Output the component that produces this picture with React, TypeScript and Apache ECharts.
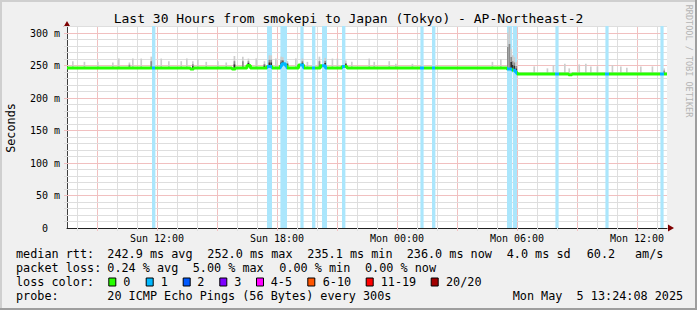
import React, { useEffect, useRef } from 'react';
import * as echarts from 'echarts';

// ---------- data ----------
const TITLE = 'Last 30 Hours from smokepi to Japan (Tokyo) - AP-Northeast-2';
const START_HOUR = 7.5; // Sun 07:30 (hours since Sun 00:00)
const END_HOUR = 37.5; // Mon 13:30
const STEP = 1 / 12; // 300 s
const Y_MAX = 310;

const hourTicks = [8, 9, 10, 11, 12, 13, 14, 15, 16, 17, 18, 19, 20, 21, 22, 23, 24, 25, 26, 27, 28, 29, 30, 31, 32, 33, 34, 35, 36, 37];
const valueTicks = [10, 20, 30, 40, 50, 60, 70, 80, 90, 100, 110, 120, 130, 140, 150, 160, 170, 180, 190, 200, 210, 220, 230, 240, 250, 260, 270, 280, 290, 300, 310];
const labelHours = [12, 18, 24, 30, 36];
const labelValues = [0, 50, 100, 150, 200, 250, 300];

// median RTT (ms), step function: value holds from hour[i] to hour[i+1]
const medianHours = [7.5, 13.67, 13.83, 15.75, 15.92, 16.5, 16.67, 17.5, 17.75, 18.17, 18.25, 18.42, 18.5, 19.08, 19.33, 20.17, 20.42, 21.25, 21.5, 29.5, 29.75, 29.92, 30.0, 32.58, 32.75];
const medianValues = [245.5, 244, 245.5, 244, 245.5, 249.5, 245.5, 248, 245.5, 249, 252, 249, 245.5, 250, 245.5, 249, 245.5, 248, 245.5, 244, 242, 239, 236.5, 235.1, 236.5];

// periods with 1/20 packets lost
const lossStart = [11.75, 17.5, 18.17, 19.17, 19.75, 20.25, 21.25, 25.17, 25.75, 29.5, 29.79, 31.92, 34.42, 37.17];
const lossEnd = [11.92, 17.75, 18.5, 19.33, 19.92, 20.5, 21.42, 25.33, 25.92, 29.75, 30.0, 32.08, 34.58, 37.33];

// smoke (spread of individual pings above the median)
const smokeHours = [7.75, 8.33, 9.0, 9.75, 10.05, 10.58, 10.75, 11.17, 11.67, 12.17, 12.55, 13.17, 13.45, 13.75, 14.0, 14.42, 15.0, 15.42, 15.83, 16.25, 16.53, 16.92, 17.33, 17.58, 17.67, 17.9, 18.17, 18.25, 18.48, 18.9, 19.23, 19.48, 20.08, 20.37, 20.73, 20.98, 21.4, 21.7, 22.57, 22.82, 23.57, 23.9, 24.73, 25.15, 28.73, 29.15, 29.5, 29.58, 29.67, 29.75, 29.83, 29.92, 30.82, 31.48, 31.78, 32.35, 32.57, 33.07, 33.4, 33.65, 33.98, 34.73, 35.15, 35.45, 36.15, 36.73, 37.32];
const smokeTops = [256, 255, 255, 254, 260, 254, 260, 260, 263, 260, 256, 256, 260, 256, 259, 255, 256, 254, 264, 263, 260, 260, 256, 265, 265, 260, 263, 262, 256, 260, 260, 255, 263, 261, 260, 260, 257, 255, 260, 255, 256, 252, 252, 250, 255, 259, 300, 308, 275, 265, 262, 255, 248, 245, 250, 252, 245, 251, 252, 248, 248, 250, 248, 246, 248, 248, 245];
const smokeShade = [0, 0, 0, 0, 0, 1, 0, 0, 1, 0, 0, 0, 0, 2, 0, 0, 0, 0, 2, 1, 2, 0, 2, 2, 2, 0, 2, 2, 2, 0, 2, 0, 1, 2, 0, 0, 2, 0, 0, 0, 0, 0, 0, 0, 0, 0, 1, 1, 2, 2, 2, 2, 0, 0, 0, 0, 0, 0, 0, 0, 0, 0, 0, 0, 0, 0, 1];

// legend texts
const rttLabel = 'median rtt:';
const rttStats = ['242.9 ms avg', '252.0 ms max', '235.1 ms min', '236.0 ms now', '4.0 ms sd', '60.2', 'am/s'];
const lossLabel = 'packet loss:';
const lossStats = ['0.24 % avg', '5.00 % max', '0.00 % min', '0.00 % now'];
const lossColorLabel = 'loss color:';
const lossColorNames = ['0', '1', '2', '3', '4-5', '6-10', '11-19', '20/20'];
const lossColors = ['#26ff00', '#00b8ff', '#0059ff', '#7e00ff', '#ff00ff', '#ff5500', '#ff0000', '#a10000'];
const probeLabel = 'probe:';
const probeText = '20 ICMP Echo Pings (56 Bytes) every 300s';
const dateText = 'Mon May  5 13:24:08 2025';

// ---------- layout / style ----------
const MONO = '"DejaVu Sans Mono", monospace';
const LEG_FS = 11.8;
const AXIS_FS = 10;
const rttX = [107.3, 207.3, 307.3, 406.7, 506.7, 586.7, 635];
const lossX = [107.3, 192.7, 279.3, 365];
const boxX = [108.3, 145.7, 182.7, 219.3, 256, 307.3, 365.7, 430.7];
const boxTextX = [123.3, 160.7, 197.3, 234.3, 270.7, 322.7, 380.7, 446];
const rowY = [254.3, 268.3, 282.3, 296];
const GRID_GRAY = '#dedede';
const GRID_RED = '#f1c0c0';
const LOSS_BG = '#abe6fc';

function medianAt(h: number): number {
  let v = medianValues[0];
  for (let i = 0; i < medianHours.length; i++) {
    if (medianHours[i] <= h) v = medianValues[i];
  }
  return v;
}

function timeLabel(v: number): string {
  const day = v < 24 ? 'Sun' : 'Mon';
  const hh = Math.round(v % 24);
  return `${day} ${String(hh).padStart(2, '0')}:00`;
}

function txt(x: number, y: number, text: string, extra: any = {}) {
  return {
    type: 'text',
    x,
    y,
    silent: true,
    style: {
      text,
      fontFamily: MONO,
      fontSize: LEG_FS,
      fill: '#000',
      verticalAlign: 'middle',
      align: 'left',
      ...extra,
    },
  };
}

export default function App() {
  const ref = useRef<HTMLDivElement>(null);

  useEffect(() => {
    if (!ref.current) return;
    const chart = echarts.init(ref.current, undefined, { renderer: 'svg' });

    const medianData: number[][] = medianHours.map((h, i) => [h, medianValues[i]]);
    medianData.push([END_HOUR, medianValues[medianValues.length - 1]]);

    const lossData = lossStart.map((s, i) => [s, lossEnd[i]]);
    const smokeData = smokeHours.map((h, i) => [h, smokeTops[i], smokeShade[i]]);

    const baseGraphic: any[] = [
      // 3D frame
      { type: 'rect', shape: { x: 0, y: 0, width: 697, height: 2 }, style: { fill: '#cfcfcf' }, silent: true },
      { type: 'rect', shape: { x: 0, y: 0, width: 2, height: 310 }, style: { fill: '#cfcfcf' }, silent: true },
      { type: 'rect', shape: { x: 0, y: 308, width: 697, height: 2 }, style: { fill: '#9e9e9e' }, silent: true },
      { type: 'rect', shape: { x: 695, y: 0, width: 2, height: 310 }, style: { fill: '#9e9e9e' }, silent: true },
      // axis arrows
      { type: 'polygon', shape: { points: [[63.5, 27], [70.5, 27], [67, 21]] }, style: { fill: '#7f0000' }, silent: true },
      { type: 'polygon', shape: { points: [[668, 224.5], [668, 231.5], [674, 228]] }, style: { fill: '#7f0000' }, silent: true },
      // y-axis title
      {
        type: 'text',
        x: 11,
        y: 128,
        rotation: Math.PI / 2,
        silent: true,
        style: { text: 'Seconds', fontFamily: MONO, fontSize: LEG_FS, fill: '#000', align: 'center', verticalAlign: 'middle' },
      },
      // watermark
      {
        type: 'text',
        x: 688.5,
        y: 61,
        rotation: -Math.PI / 2,
        silent: true,
        style: { text: 'RRDTOOL / TOBI OETIKER', fontFamily: MONO, fontSize: 8.5, fill: '#b4b4b4', align: 'center', verticalAlign: 'middle' },
      },
      // legend rows
      txt(16, rowY[0], rttLabel),
      ...rttStats.map((t, i) => txt(rttX[i], rowY[0], t)),
      txt(16, rowY[1], lossLabel),
      ...lossStats.map((t, i) => txt(lossX[i], rowY[1], t)),
      txt(16, rowY[2], lossColorLabel),
      ...lossColors.map((c, i) => ({
        type: 'rect',
        silent: true,
        shape: { x: boxX[i] + 0.5, y: 278, width: 7, height: 8 },
        style: { fill: c, stroke: '#000', lineWidth: 1 },
      })),
      ...lossColorNames.map((t, i) => txt(boxTextX[i], rowY[2], t)),
      txt(16, rowY[3], probeLabel),
      txt(107.3, rowY[3], probeText),
      txt(512.7, rowY[3], dateText),
    ];

    const option: any = {
      animation: false,
      backgroundColor: '#f0f0f0',
      title: {
        text: TITLE,
        left: 'center',
        top: 12,
        padding: 0,
        textStyle: { fontFamily: MONO, fontSize: 13, fontWeight: 'normal', color: '#000' },
      },
      grid: { left: 67, right: 30, top: 26, bottom: 82, show: true, backgroundColor: '#ffffff', borderWidth: 0 },
      xAxis: {
        type: 'value',
        min: START_HOUR,
        max: END_HOUR,
        interval: 0.5,
        axisLine: { show: true, onZero: false, lineStyle: { color: '#202020', width: 1 } },
        axisTick: { show: false },
        axisLabel: { show: false },
        splitLine: { show: false },
      },
      yAxis: {
        type: 'value',
        min: 0,
        max: Y_MAX,
        interval: 10,
        axisLine: { show: true, lineStyle: { color: '#404040', width: 1 } },
        axisTick: { show: false },
        axisLabel: { show: false },
        splitLine: { show: false },
      },
      visualMap: {
        type: 'piecewise',
        show: false,
        dimension: 0,
        seriesIndex: 5,
        pieces: lossData.map(([a, b]) => ({ gte: a, lte: b, color: '#00b8ff' })),
        outOfRange: { color: '#26ff00' },
      },
      series: [
        {
          type: 'custom',
          name: 'vgrid',
          silent: true,
          data: hourTicks.map((h) => [h, 0]),
          renderItem: (_p: any, api: any) => {
            const h = api.value(0);
            const top = api.coord([h, Y_MAX]);
            const bot = api.coord([h, 0]);
            return {
              type: 'rect',
              shape: { x: Math.round(top[0]), y: top[1], width: 1, height: bot[1] - top[1] + 3 },
              style: { fill: h % 3 === 0 ? GRID_RED : GRID_GRAY },
            };
          },
        },
        {
          type: 'custom',
          name: 'hgrid',
          silent: true,
          data: valueTicks.map((v) => [START_HOUR, v]),
          renderItem: (_p: any, api: any) => {
            const v = api.value(1);
            const l = api.coord([START_HOUR, v]);
            const r = api.coord([END_HOUR, v]);
            return {
              type: 'rect',
              shape: { x: l[0] - 3, y: Math.round(l[1]), width: r[0] - l[0] + 3, height: 1 },
              style: { fill: v % 50 === 0 ? GRID_RED : GRID_GRAY },
            };
          },
        },
        {
          type: 'custom',
          name: 'xlabels',
          silent: true,
          data: labelHours.map((h) => [h, 0]),
          renderItem: (_p: any, api: any) => {
            const h = api.value(0);
            const p = api.coord([h, 0]);
            return {
              type: 'text',
              x: p[0],
              y: p[1] + 5,
              style: { text: timeLabel(h), fontFamily: MONO, fontSize: AXIS_FS, fill: '#000', align: 'center', verticalAlign: 'top' },
            };
          },
        },
        {
          type: 'custom',
          name: 'loss',
          silent: true,
          data: lossData,
          renderItem: (_p: any, api: any) => {
            const a = api.value(0);
            const b = api.value(1);
            const p0 = api.coord([a, Y_MAX]);
            const p1 = api.coord([b, 0]);
            return {
              type: 'rect',
              shape: { x: p0[0], y: p0[1], width: p1[0] - p0[0], height: p1[1] - p0[1] },
              style: { fill: LOSS_BG },
            };
          },
        },
        {
          type: 'custom',
          name: 'smoke',
          silent: true,
          data: smokeData,
          renderItem: (_p: any, api: any) => {
            const h = api.value(0);
            const top = api.value(1);
            const shade = api.value(2);
            const base = medianAt(h);
            const p0 = api.coord([h, base]);
            const p1 = api.coord([h + STEP, top]);
            const w = p1[0] - p0[0];
            const children: any[] = [
              { type: 'rect', shape: { x: p0[0], y: p1[1], width: w, height: p0[1] - p1[1] }, style: { fill: '#cdcdcd' } },
            ];
            if (shade >= 1) {
              const pm = api.coord([h, base + (top - base) * 0.6]);
              children.push({ type: 'rect', shape: { x: p0[0], y: pm[1], width: w, height: p0[1] - pm[1] }, style: { fill: '#8c8c8c' } });
            }
            if (shade >= 2) {
              const pd = api.coord([h, base + (top - base) * 0.35]);
              children.push({ type: 'rect', shape: { x: p0[0], y: pd[1], width: w, height: p0[1] - pd[1] }, style: { fill: '#2e2e2e' } });
            }
            return { type: 'group', children };
          },
        },
        {
          type: 'line',
          name: 'median',
          data: medianData,
          step: 'end',
          showSymbol: false,
          silent: true,
          lineStyle: { width: 3 },
          z: 3,
        },
      ],
      graphic: baseGraphic,
    };

    chart.setOption(option);

    // y tick labels placed through the chart's own y scale
    const yLabels = labelValues.map((v) => {
      const p = chart.convertToPixel({ gridIndex: 0 }, [START_HOUR, v]) as number[];
      return txt(p[0] - (v === 0 ? 19 : 7), p[1] + 0.5, v === 0 ? '0' : `${v} m`, { fontSize: AXIS_FS, align: 'right' });
    });
    chart.setOption({ graphic: [...baseGraphic, ...yLabels] });

    return () => chart.dispose();
  }, []);

  return <div ref={ref} style={{ position: 'fixed', left: 0, top: 0, width: 697, height: 310 }} />;
}
